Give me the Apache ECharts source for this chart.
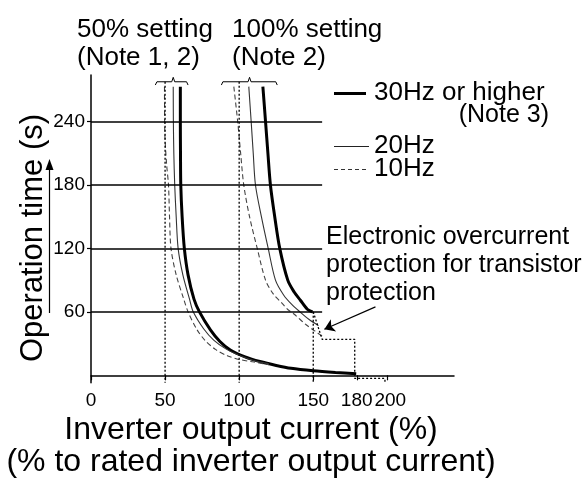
<!DOCTYPE html>
<html><head><meta charset="utf-8">
<script src="https://cdn.jsdelivr.net/npm/echarts@6/dist/echarts.min.js"></script>
<style>html,body{margin:0;padding:0;background:#fff}#c{width:587px;height:478px}</style>
</head><body><div id="c"></div>
<script>
// ---- data ----
const xTickValues = [0, 50, 100, 150, 180, 200];
const xLabelsMain = [0, 50, 100, 150];
const xLabel180 = [180];
const xLabel200 = [200];
const yTickValues = [60, 120, 180, 240];
const gridLineXEnd = 156;
const set50_30Hz = [[60.3,273],[60.3,240],[60.4,210],[60.6,180],[61.5,150],[63,120],[65.5,95],[69.5,72],[73.2,60],[80.6,43],[87,32],[94,24],[104,17.5],[114,13],[125,9.3],[135,6.6],[150,4.3],[165,2.7],[179,1.5]];
const set50_20Hz = [[55.5,273],[55.6,240],[55.9,210],[56.5,180],[57.5,150],[58.8,120],[62,95],[66.5,72],[69,60],[76,44],[83,33],[91,25],[100,19],[110,14],[120,10.8]];
const set50_10Hz = [[49.6,273],[49.8,230],[51,200],[52.3,180],[53,150],[54,120],[57.5,95],[62.6,72],[65.5,60],[71.6,43],[77,33],[84,24.5],[92,18.5],[100,15],[110,12.5],[120,10]];
const set100_30Hz = [[116,273],[117.8,240],[119.4,210],[121.1,180],[124,150],[127.4,120],[132.8,90],[137,79],[141.3,71],[146,62.5],[149.5,60]];
const set100_20Hz = [[106.5,273],[108.1,240],[109.5,210],[111,180],[115,150],[119.6,120],[124.5,90],[130,76],[135.5,67],[141,60],[147,53],[153.5,47]];
const set100_10Hz = [[96.4,273],[99,240],[101,210],[103.1,180],[107,150],[112.2,120],[117.8,90],[123,77],[129,68],[133,62],[137,58],[145,48],[151,42],[156,37]];
const transistorStep = [[150,60],[156,34],[178,34],[178,-3],[198.4,-3],[198.4,-7]];
const settingLineX = [50, 100];
const settingLineTop = 277.5;
const bracket50 = [[43.4,274.5],[44.5,277.6],[54.5,277.6],[55.5,281.8],[56.5,277.6],[64.5,277.6],[65.5,274.5]];
const bracket100 = [[88,274.5],[89,277.6],[106,277.6],[107,281.8],[108,277.6],[124.7,277.6],[125.7,274.5]];
const arrowCoords = [[192,64.7],[157.5,43.5]];

const FONT = 'Liberation Sans, Arial, sans-serif';
const chart = echarts.init(document.getElementById('c'), null, {renderer:'canvas'});

function curve(name, data, width, type, color){
  return {type:'line', name, data, showSymbol:false, smooth:0.3, silent:true,
    lineStyle:{color, width, type}, z:3};
}
const dotted = {color:'#000', width:1.3, type:[2,2]};

const series = [
  curve('50% 30Hz', set50_30Hz, 3, 'solid', '#000'),
  curve('50% 20Hz', set50_20Hz, 1.1, 'solid', '#333'),
  curve('50% 10Hz', set50_10Hz, 1.1, [5,3], '#444'),
  curve('100% 30Hz', set100_30Hz, 3, 'solid', '#000'),
  curve('100% 20Hz', set100_20Hz, 1.1, 'solid', '#333'),
  curve('100% 10Hz', set100_10Hz, 1.1, [5,3], '#444'),
  {type:'line', data: transistorStep, showSymbol:false, lineStyle: dotted, silent:true},
  {type:'line', data:[[150,60],[150,-7]], showSymbol:false, lineStyle: dotted, silent:true},
  {type:'line', data:[[settingLineX[0],settingLineTop],[settingLineX[0],-7]], showSymbol:false, lineStyle: dotted, silent:true},
  {type:'line', data:[[settingLineX[1],settingLineTop],[settingLineX[1],-7]], showSymbol:false, lineStyle: dotted, silent:true},
  {type:'line', data: bracket50, showSymbol:false, lineStyle:{color:'#000', width:1}, silent:true},
  {type:'line', data: bracket100, showSymbol:false, lineStyle:{color:'#000', width:1}, silent:true},
  {type:'lines', coordinateSystem:'cartesian2d', silent:true,
    symbol:['none','arrow'], symbolSize:10,
    lineStyle:{color:'#000', width:1.2, opacity:1, curveness:0},
    data:[{coords: arrowCoords}]},
  {type:'line', data:[], showSymbol:false, silent:true,
    markLine:{silent:true, symbol:'none', label:{show:false}, animation:false,
      lineStyle:{color:'#000', width:1.5, type:'solid'},
      data: yTickValues.map(v => [{coord:[0,v]},{coord:[gridLineXEnd,v]}])}}
];

const txt = (x, y, text, size, opt, extra) => Object.assign({type:'text', x, y, silent:true,
  style: Object.assign({text, fill:'#000', font: size + 'px ' + FONT, textVerticalAlign:'middle'}, opt||{})}, extra||{});

const labelCommon = {color:'#000', fontSize:19, fontFamily:FONT, margin:9, hideOverlap:false};
const extraAxis = (values, pad) => ({type:'value', min:0, max:245, position:'bottom', gridIndex:0,
    axisLine:{show:false}, axisTick:{show:false},
    axisLabel:Object.assign({customValues: values, padding: pad}, labelCommon),
    splitLine:{show:false}});
const option = {
  animation:false,
  backgroundColor:'#fff',
  grid:{left:91, top:75, width:363, height:307.7, outerBoundsMode:'none', containLabel:false},
  xAxis:[{type:'value', min:0, max:245,
    axisLine:{lineStyle:{color:'#000', width:1.5}},
    axisTick:{show:true, length:5, customValues: xTickValues, lineStyle:{color:'#000', width:1.2}},
    axisLabel:Object.assign({customValues: xLabelsMain}, labelCommon),
    splitLine:{show:false}},
   extraAxis(xLabel180, [0,2,0,0]),
   extraAxis(xLabel200, [0,0,0,6])],
  yAxis:{type:'value', min:-7, max:284,
    axisLine:{show:true, lineStyle:{color:'#000', width:1.5}},
    axisTick:{show:true, length:4, customValues: yTickValues, lineStyle:{color:'#000', width:1.2}},
    axisLabel:{customValues: yTickValues, color:'#000', fontSize:19, fontFamily:FONT, margin:6},
    splitLine:{show:false}},
  series,
  graphic:[
    txt(77, 30, '50% setting', 26),
    txt(77, 58, '(Note 1, 2)', 26),
    txt(232, 30, '100% setting', 26),
    txt(232, 58, '(Note 2)', 26),
    {type:'line', silent:true, shape:{x1:334, y1:93.5, x2:366, y2:93.5}, style:{stroke:'#000', lineWidth:3}},
    txt(374, 93, '30Hz or higher', 26),
    txt(549, 115, '(Note 3)', 25, {textAlign:'right'}),
    {type:'line', silent:true, shape:{x1:334, y1:146.5, x2:369, y2:146.5}, style:{stroke:'#222', lineWidth:1.1}},
    txt(374, 146, '20Hz', 26),
    {type:'line', silent:true, shape:{x1:334, y1:169.5, x2:369, y2:169.5}, style:{stroke:'#333', lineWidth:1.1, lineDash:[4,3]}},
    txt(374, 169, '10Hz', 26),
    txt(326, 237, 'Electronic overcurrent', 25),
    txt(326, 265, 'protection for transistor', 25),
    txt(326, 293, 'protection', 25),
    txt(33, 238, 'Operation time (s)', 31, {textAlign:'center'}, {rotation: Math.PI/2}),
    {type:'line', silent:true, shape:{x1:49.5, y1:313, x2:49.5, y2:168}, style:{stroke:'#000', lineWidth:1.2}},
    {type:'polygon', silent:true, shape:{points:[[45.5,170],[53.5,170],[49.5,159]]}, style:{fill:'#000'}},
    txt(251, 430, 'Inverter output current (%)', 32, {textAlign:'center'}),
    txt(251, 462, '(% to rated inverter output current)', 32, {textAlign:'center'})
  ]
};
chart.setOption(option);
</script></body></html>
